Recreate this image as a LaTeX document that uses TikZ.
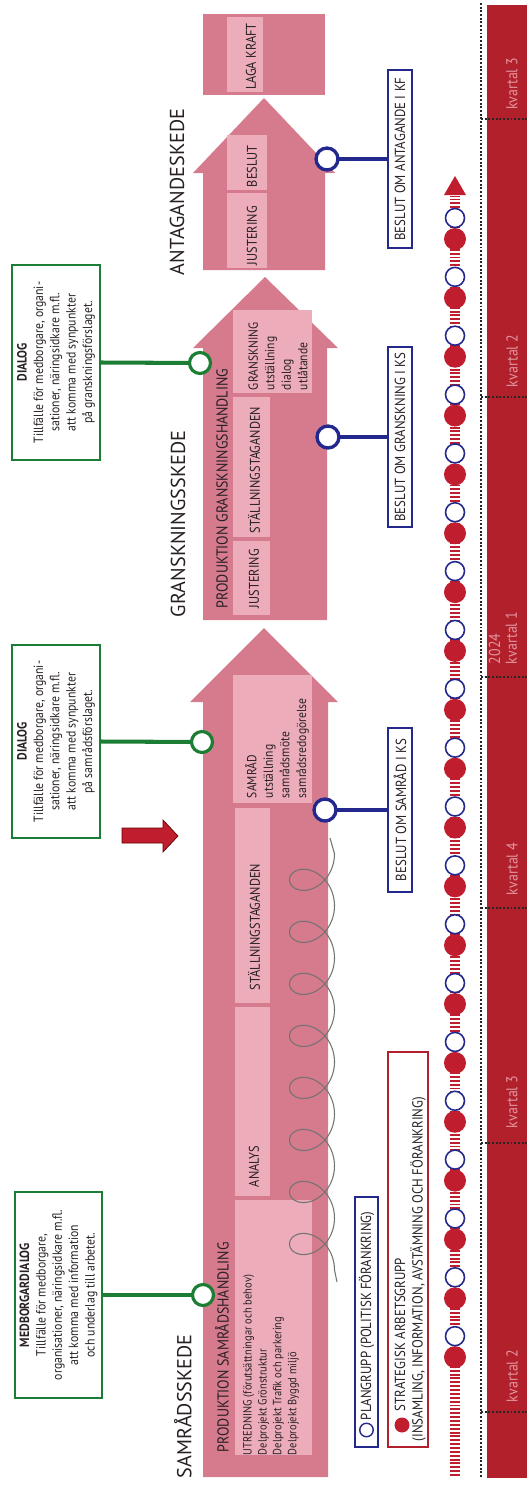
\documentclass[tikz,border=0pt]{standalone}
\usepackage{fontspec}
\setmainfont{PT Sans}[FakeStretch=0.88]
\newfontfamily\stagefont{PT Sans}
\usepackage{tikz}
\usetikzlibrary{positioning,calc}

\definecolor{pinkarrow}{RGB}{214,122,142}
\definecolor{pinklight}{RGB}{236,172,186}
\definecolor{barred}{RGB}{178,32,44}
\definecolor{dotred}{RGB}{192,30,46}
\definecolor{navy}{RGB}{34,40,140}
\definecolor{dgreen}{RGB}{28,126,52}
\definecolor{ink}{RGB}{40,32,36}
\definecolor{qlabel}{RGB}{226,150,160}

\begin{document}
\begin{tikzpicture} [x=0.02cm,y=-0.02cm,every node/.style={inner sep=0pt,outer sep=0pt}]

\tikzstyle{lightbox}=[fill=pinklight,draw=none]
\tikzstyle{stage}=[rotate=90,anchor=west,text=ink,font=\stagefont\fontsize{11.5}{13}\selectfont]
\tikzstyle{boxtitle}=[rotate=90,anchor=west,text=ink,font=\fontsize{9}{10}\selectfont]
\tikzstyle{boxlabel}=[rotate=90,anchor=west,text=ink,font=\fontsize{8}{9}\selectfont]
\tikzstyle{boxlines}=[rotate=90,anchor=west,align=left,text=ink,font=\fontsize{7.5}{9.4}\selectfont]
\tikzstyle{greenbox}=[rotate=90,draw=dgreen,line width=1.2pt,fill=white,align=center,text=ink,font=\fontsize{7.6}{9.3}\selectfont]
\tikzstyle{greencirc}=[circle,draw=dgreen,line width=1.8pt,fill=white,minimum size=0.42cm]
\tikzstyle{greenline}=[draw=dgreen,line width=2.3pt]
\tikzstyle{bluebox}=[rotate=90,draw=navy,line width=1.2pt,fill=white,text=ink,minimum height=0.48cm,font=\fontsize{8.3}{9}\selectfont]
\tikzstyle{bluecirc}=[circle,draw=navy,line width=1.9pt,fill=white,minimum size=0.44cm]
\tikzstyle{blueline}=[draw=navy,line width=2.3pt]
\tikzstyle{legendtext}=[rotate=90,anchor=west,text=ink,font=\fontsize{8.3}{9}\selectfont]
\tikzstyle{plandot}=[circle,draw=navy,line width=0.9pt,fill=white,minimum size=0.38cm]
\tikzstyle{stratdot}=[circle,fill=dotred,minimum size=0.44cm]
\tikzstyle{chaindash}=[draw=dotred,line width=6pt,dash pattern=on 1.1pt off 1.1pt]
\tikzstyle{dotline}=[draw=black!85,line width=1.3pt,dash pattern=on 1.1pt off 1pt]
\tikzstyle{quarter}=[rotate=90,anchor=west,align=left,text=qlabel,font=\fontsize{9}{9.5}\selectfont]

\fill [white] (0,0) rectangle (527,1487);
\useasboundingbox (0,0) rectangle (527,1487);

% SAMRADSSKEDE
\begin{scope}[]
\fill [pinkarrow] (203,1477) -- (328,1477) -- (328,702) -- (338,702) -- (264,628) -- (190,702) -- (203,702) -- cycle;
\fill [lightbox] (235,1200) rectangle (312,1455);
\fill [lightbox] (235,1007) rectangle (270,1196);
\fill [lightbox] (235,808) rectangle (270,1003);
\fill [lightbox] (233,675) rectangle (312,803);

\node (samS) [stage] at (183,1478) {SAMRÅDSSKEDE};
\node (prodS) [boxtitle] at (222,1452) {PRODUKTION SAMRÅDSHANDLING};
\node (utr) [boxlines,font=\fontsize{6.8}{8.5}\selectfont] at (271,1455) {UTREDNING (förutsättningar och behov)\\Delprojekt Grönstruktur\\Delprojekt Trafik och parkering\\Delprojekt Byggd miljö};
\node (analys) [boxlabel] at (254,1187) {ANALYS};
\node (stallS) [boxlabel] at (254,990) {STÄLLNINGSTAGANDEN};
\node (samrad) [boxlines] at (277,798) {SAMRÅD\\utställning\\samrådsmöte\\samrådsredogörelse};

\draw [black!55,line width=0.6pt] (337,1282) -- (334.5,1270)
  plot [domain=0:50.27,samples=500,smooth] ({312+22.5*cos(\x r)},{1270-8.28*\x-22*sin(\x r)})
  -- (330,838);

\fill [dotred,draw=black!60!red,line width=0.4pt] (122,828) -- (163,828) -- (163,820) -- (178,836) -- (163,852) -- (163,843) -- (122,843) -- cycle;
\end{scope}

% GRANSKNINGSSKEDE
\begin{scope}[]
\fill [pinkarrow] (203,620) -- (327,620) -- (327,348) -- (338,348) -- (265,277) -- (193,348) -- (203,348) -- cycle;
\fill [lightbox] (233,541) rectangle (270,615);
\fill [lightbox] (233,397) rectangle (270,537);
\fill [lightbox] (233,310) rectangle (312,393);

\node (granS) [stage] at (178,617) {GRANSKNINGSSKEDE};
\node (prodG) [boxtitle] at (222,608) {PRODUKTION GRANSKNINGSHANDLING};
\node (justG) [boxlabel] at (254,608) {JUSTERING};
\node (stallG) [boxlabel] at (254,533) {STÄLLNINGSTAGANDEN};
\node (gransk) [boxlines] at (278,390) {GRANSKNING\\utställning\\dialog\\utlåtande};
\end{scope}

% ANTAGANDESKEDE
\begin{scope}[]
\fill [pinkarrow] (203,270) -- (325,270) -- (325,173) -- (335,173) -- (264,98) -- (193,173) -- (203,173) -- cycle;
\fill [lightbox] (227,193) rectangle (267,268);
\fill [lightbox] (227,135) rectangle (267,190);
\fill [pinkarrow] (203,14) rectangle (325,95);
\fill [lightbox] (227,17) rectangle (263,92);

\node (antS) [stage] at (177,275) {ANTAGANDESKEDE};
\node (justA) [boxlabel] at (252,265) {JUSTERING};
\node (beslut) [boxlabel] at (252,187) {BESLUT};
\node (laga) [boxlabel] at (251,90) {LAGA KRAFT};
\end{scope}

% dialog
\node (medb) [greenbox,minimum width=4.12cm,minimum height=1.74cm] at (58.5,1295) {\textbf{MEDBORGARDIALOG}\\Tillfälle för medborgare,\\organisationer, näringsidkare m.fl.\\att komma med information\\och underlag till arbetet.};
\node (dialS) [greenbox,minimum width=3.86cm,minimum height=1.76cm] at (56,741.5) {\textbf{DIALOG}\\Tillfälle för medborgare, organi-\\sationer, näringsidkare m.fl.\\att komma med synpunkter\\på samrådsförslaget.};
\node (dialG) [greenbox,minimum width=3.9cm,minimum height=1.76cm] at (56,362.5) {\textbf{DIALOG}\\Tillfälle för medborgare, organi-\\sationer, näringsidkare m.fl.\\att komma med synpunkter\\på granskningsförslaget.};

\node (medbC) [greencirc] at (203,1295) {};
\node (dialSC) [greencirc] at (202,742) {};
\node (dialGC) [greencirc] at (200,363) {};
\draw [greenline] (medb.south) -- (medbC);
\draw [greenline] (dialS.south) -- (dialSC);
\draw [greenline] (dialG.south) -- (dialGC);

% beslut
\node (beslS) [bluebox,minimum width=3.28cm] at (400,810) {BESLUT OM SAMRÅD I KS};
\node (beslG) [bluebox,minimum width=3.6cm] at (400,437) {BESLUT OM GRANSKNING I KS};
\node (beslA) [bluebox,minimum width=3.56cm] at (400,159) {BESLUT OM ANTAGANDE I KF};

\node (beslSC) [bluecirc] at (325,810) {};
\node (beslGC) [bluecirc] at (328,437) {};
\node (beslAC) [bluecirc] at (327,159) {};
\draw [blueline] (beslSC) -- (beslS.north);
\draw [blueline] (beslGC) -- (beslG.north);
\draw [blueline] (beslAC) -- (beslA.north);

% legend
\node (lgPlan) [rotate=90,draw=navy,line width=1.1pt,minimum width=5cm,minimum height=0.46cm] at (366.5,1322) {};
\node (lgPlanC) [circle,draw=navy,line width=0.8pt,minimum size=0.27cm] at (366.5,1430) {};
\node (lgPlanT) [legendtext] at (366.5,1420) {PLANGRUPP (POLITISK FÖRANKRING)};

\node (lgStrat) [rotate=90,draw=barred,line width=1.1pt,minimum width=7.9cm,minimum height=0.8cm] at (408,1249.5) {};
\node (lgStratC) [circle,fill=dotred,minimum size=0.3cm] at (402,1425) {};
\node (lgStratT) [legendtext] at (400,1411) {STRATEGISK ARBETSGRUPP};
\node (lgStratT2) [legendtext] at (418,1441) {(INSAMLING, INFORMATION, AVSTÄMNING OCH FÖRANKRING)};

% chain of meetings
\coordinate (chainS) at (455,1476);
\coordinate (chainE) at (455,196);
\draw [chaindash] (chainS) -- (chainE);
\fill [dotred] (444,195) -- (466,195) -- (455,176) -- cycle;
\foreach \i in {0,...,19} {
  \node (strat\i) [stratdot] at (455,{239+58.85*\i}) {};
  \node (plan\i) [plandot] at (455,{218+58.85*\i}) {};
}

% timeline
\fill [barred] (487,5) rectangle (527,1478);
\draw [dotline] (481,3) -- (481,1478);
\foreach \yq in {1412,1143,908,677,397,119}
  \draw [dotline] (481,\yq) -- (527,\yq);

\node (q2a) [quarter] at (512,1402) {kvartal 2};
\node (q3a) [quarter] at (512,1128) {kvartal 3};
\node (q4a) [quarter] at (512,895) {kvartal 4};
\node (q1b) [quarter] at (503,664) {2024\\kvartal 1};
\node (q2b) [quarter] at (512,387) {kvartal 2};
\node (q3b) [quarter] at (512,110) {kvartal 3};

%\draw[step=50,gray,very thin] (0,0) grid (527,1487);

\end{tikzpicture}
\end{document}
